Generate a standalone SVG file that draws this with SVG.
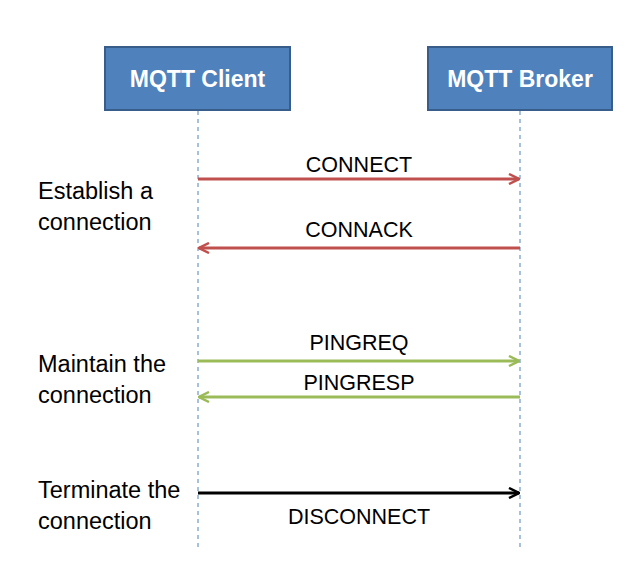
<svg xmlns="http://www.w3.org/2000/svg" width="640" height="579" viewBox="0 0 640 579">
<style>
.box{fill:#4F81BD;stroke:#385D8A;stroke-width:2}
.bt{font-family:"Liberation Sans",Arial,sans-serif;font-size:23px;font-weight:bold;fill:#fff;text-anchor:middle}
.life{stroke:#4F81BD;stroke-width:1;stroke-dasharray:4,4;fill:none}
.lbl{font-family:"Liberation Sans",Arial,sans-serif;font-size:21.5px;fill:#000;text-anchor:middle}
.side{font-family:"Liberation Sans",Arial,sans-serif;font-size:23.5px;fill:#000}
.red{stroke:#C0504D;stroke-width:3;fill:none}
.green{stroke:#9BBB59;stroke-width:3;fill:none}
.black{stroke:#000;stroke-width:3;fill:none}
</style>
<defs>
<marker id="mr" viewBox="0 0 12 12" refX="11" refY="6" markerWidth="12" markerHeight="12" markerUnits="userSpaceOnUse" orient="auto-start-reverse"><path d="M1,1 L11,6 L1,11" fill="none" stroke="#C0504D" stroke-width="2.5"/></marker>
<marker id="mg" viewBox="0 0 12 12" refX="11" refY="6" markerWidth="12" markerHeight="12" markerUnits="userSpaceOnUse" orient="auto-start-reverse"><path d="M1,1 L11,6 L1,11" fill="none" stroke="#9BBB59" stroke-width="2.5"/></marker>
<marker id="mk" viewBox="0 0 12 12" refX="11" refY="6" markerWidth="12" markerHeight="12" markerUnits="userSpaceOnUse" orient="auto-start-reverse"><path d="M1,1 L11,6 L1,11" fill="none" stroke="#000" stroke-width="2.5"/></marker>
</defs>
<rect width="640" height="579" fill="#fff"/>
<g id="client">
<rect class="box" x="105" y="47" width="185" height="63"/>
<text class="bt" x="197.5" y="87">MQTT Client</text>
</g>
<g id="broker">
<rect class="box" x="428" y="47" width="184" height="63"/>
<text class="bt" x="520" y="87">MQTT Broker</text>
</g>
<g id="lifelines">
<line class="life" x1="198" y1="111" x2="198" y2="547"/>
<line class="life" x1="520" y1="111" x2="520" y2="547"/>
</g>
<g id="side-labels">
<text class="side" x="38" y="199">Establish a</text>
<text class="side" x="38" y="230">connection</text>
<text class="side" x="38" y="372">Maintain the</text>
<text class="side" x="38" y="403">connection</text>
<text class="side" x="38" y="498">Terminate the</text>
<text class="side" x="38" y="529">connection</text>
</g>
<g id="connectors">
<line class="red" x1="198" y1="179" x2="519" y2="179" marker-end="url(#mr)"/>
<text class="lbl" x="359" y="172">CONNECT</text>
<line class="red" x1="520" y1="248" x2="199" y2="248" marker-end="url(#mr)"/>
<text class="lbl" x="359" y="237">CONNACK</text>
<line class="green" x1="198" y1="361" x2="519" y2="361" marker-end="url(#mg)"/>
<text class="lbl" x="359" y="350">PINGREQ</text>
<line class="green" x1="520" y1="397" x2="199" y2="397" marker-end="url(#mg)"/>
<text class="lbl" x="359" y="390">PINGRESP</text>
<line class="black" x1="198" y1="493" x2="519" y2="493" marker-end="url(#mk)"/>
<text class="lbl" x="359" y="524">DISCONNECT</text>
</g>
</svg>
